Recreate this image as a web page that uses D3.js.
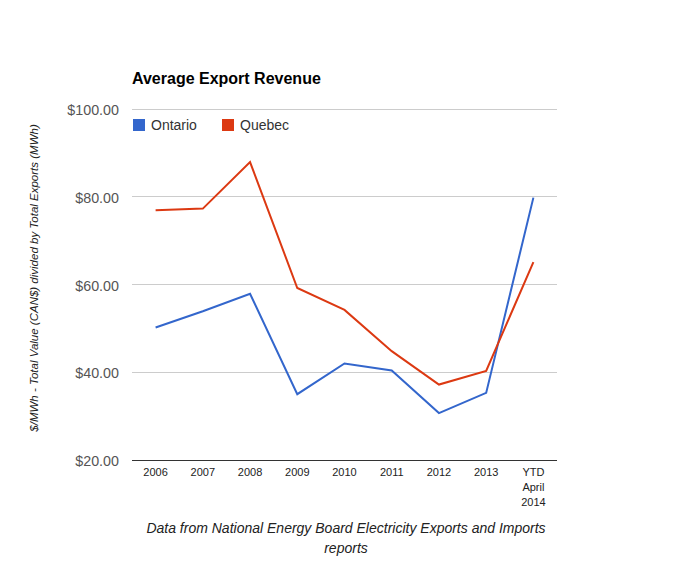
<!DOCTYPE html>
<html>
<head>
<meta charset="utf-8">
<script src="https://cdn.jsdelivr.net/npm/d3@7"></script>
<style>
  body { margin: 0; background: #fff; }
  svg { font-family: "Liberation Sans", Arial, sans-serif; }
</style>
</head>
<body>
<div id="chart"></div>
<script>
var categories = ["2006", "2007", "2008", "2009", "2010", "2011", "2012", "2013", "YTD April 2014"];
var ontario = [50.2, 53.9, 57.9, 35.0, 42.0, 40.4, 30.7, 35.3, 79.8];
var quebec = [76.9, 77.3, 87.9, 59.2, 54.2, 44.8, 37.2, 40.3, 65.1];
var yTicks = [20, 40, 60, 80, 100];
var seriesNames = ["Ontario", "Quebec"];
var colors = ["#3366cc", "#dc3912"];

(function () {
  var width = 690, height = 569;
  var left = 132, right = 557, top = 109, bottom = 460;

  var svg = d3.select("#chart").append("svg")
    .attr("width", width)
    .attr("height", height);

  var x = d3.scaleBand().domain(categories).range([left, right]);
  var y = d3.scaleLinear().domain([20, 100]).range([bottom, top]);

  // gridlines
  svg.append("g").selectAll("line")
    .data(yTicks.filter(function (d) { return d !== 20; }))
    .enter().append("line")
    .attr("x1", left).attr("x2", right)
    .attr("y1", function (d) { return y(d); })
    .attr("y2", function (d) { return y(d); })
    .style("stroke", "#cccccc")
    .style("stroke-width", 1)
    .attr("shape-rendering", "crispEdges");

  // y labels
  svg.append("g").selectAll("text")
    .data(yTicks)
    .enter().append("text")
    .attr("x", left - 13)
    .attr("y", function (d) { return y(d) + 6; })
    .attr("text-anchor", "end")
    .style("font-size", "14.3px")
    .style("fill", "#555")
    .text(function (d) { return "$" + d3.format(".2f")(d); });

  // baseline
  svg.append("line")
    .attr("x1", left).attr("x2", right)
    .attr("y1", y(20)).attr("y2", y(20))
    .style("stroke", "#333")
    .attr("shape-rendering", "crispEdges");

  // x labels
  var xl = svg.append("g").selectAll("text")
    .data(categories)
    .enter().append("text")
    .attr("x", function (d) { return x(d) + x.bandwidth() / 2; })
    .attr("y", bottom + 16)
    .attr("text-anchor", "middle")
    .style("font-size", "11px")
    .style("fill", "#222");
  xl.each(function (d) {
    var words = d.split(" ");
    var t = d3.select(this);
    words.forEach(function (w, i) {
      t.append("tspan")
        .attr("x", x(d) + x.bandwidth() / 2)
        .attr("dy", i === 0 ? 0 : 15)
        .text(w);
    });
  });

  // lines
  var line = d3.line()
    .x(function (d, i) { return x(categories[i]) + x.bandwidth() / 2; })
    .y(function (d) { return y(d); });

  [ontario, quebec].forEach(function (s, i) {
    svg.append("path")
      .datum(s)
      .attr("d", line)
      .style("fill", "none")
      .style("stroke", colors[i])
      .style("stroke-width", 2);
  });

  // title
  svg.append("text")
    .attr("x", left)
    .attr("y", 84)
    .style("font-size", "16px")
    .style("font-weight", "bold")
    .style("fill", "#000")
    .text("Average Export Revenue");

  // legend
  var legX = [133, 222];
  seriesNames.forEach(function (n, i) {
    svg.append("rect")
      .attr("x", legX[i]).attr("y", 119)
      .attr("width", 12).attr("height", 12)
      .style("fill", colors[i]);
    svg.append("text")
      .attr("x", legX[i] + 18).attr("y", 130)
      .style("font-size", "14px")
      .style("fill", "#333")
      .text(n);
  });

  // y axis title
  svg.append("text")
    .attr("transform", "translate(38,278) rotate(-90)")
    .attr("text-anchor", "middle")
    .style("font-size", "11.5px")
    .style("font-style", "italic")
    .style("fill", "#222")
    .text("$/MWh - Total Value (CAN$) divided by Total Exports (MWh)");

  // footer
  var foot = svg.append("text")
    .attr("text-anchor", "middle")
    .style("font-size", "14px")
    .style("font-style", "italic")
    .style("fill", "#222");
  foot.append("tspan").attr("x", 346).attr("y", 533)
    .text("Data from National Energy Board Electricity Exports and Imports");
  foot.append("tspan").attr("x", 346).attr("y", 553).text("reports");
}());
</script>
</body>
</html>
